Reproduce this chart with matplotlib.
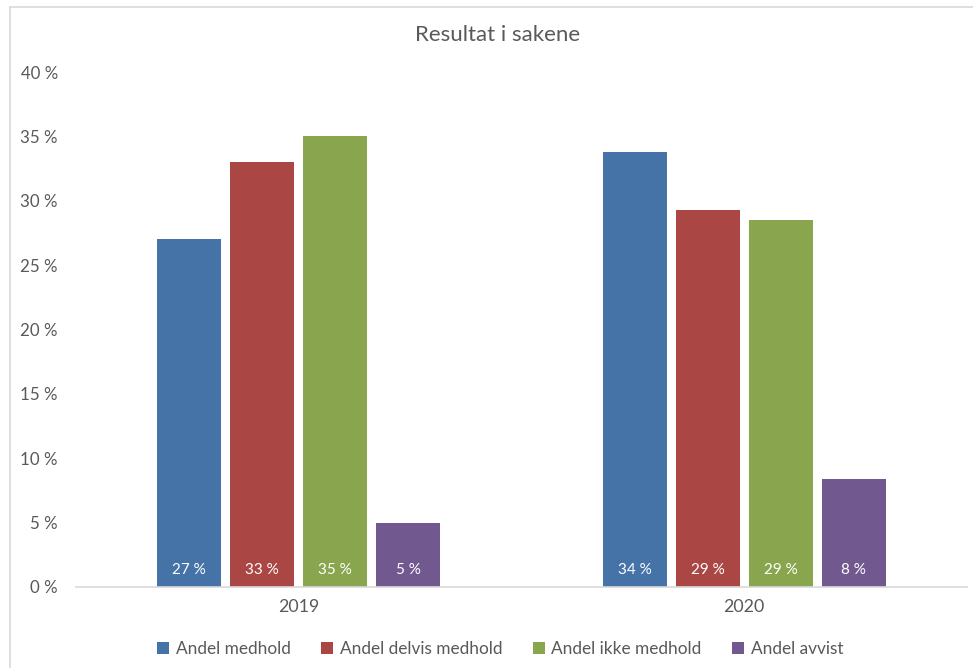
import numpy as np
import matplotlib.pyplot as plt
from matplotlib.lines import Line2D
from matplotlib.patches import Patch

plt.rcParams['font.family'] = ['Lato', 'DejaVu Sans']

years = ['2019', '2020']
series = ['Andel medhold', 'Andel delvis medhold', 'Andel ikke medhold', 'Andel avvist']
values = [
    [27.0, 33.8],   # medhold
    [33.0, 29.3],   # delvis medhold
    [35.0, 28.5],   # ikke medhold
    [5.0, 8.4],     # avvist
]
labels = [
    ['27 %', '34 %'],
    ['33 %', '29 %'],
    ['35 %', '29 %'],
    ['5 %', '8 %'],
]
colors = ['#4572A7', '#AA4643', '#89A54E', '#71588F']
text_grey = '#595959'

fig = plt.figure(figsize=(9.73, 6.68), dpi=100)
ax = fig.add_axes([0.0781, 0.1213, 0.9157, 0.7709])

x = np.arange(len(years))
width = 0.1437
step = 0.1639
for i, (name, vals) in enumerate(zip(series, values)):
    pos = x + (i - 1.5) * step
    ax.bar(pos, vals, width=width, color=colors[i], label=name, zorder=2)
    for px, lab in zip(pos, labels[i]):
        ax.annotate(lab, (px, 0), xytext=(0, 12.2), textcoords='offset points',
                    ha='center', va='center', color='white', fontsize=11)

ax.set_xlim(-0.5, 1.5)
ax.set_ylim(0, 40)
ax.set_yticks(np.arange(0, 41, 5))
ax.set_yticklabels([f'{v} %' for v in range(0, 41, 5)])
ax.set_xticks(x)
ax.set_xticklabels(years)
ax.tick_params(axis='y', length=0, pad=13, labelsize=12.2, labelcolor=text_grey)
ax.tick_params(axis='x', length=0, pad=9, labelsize=12.8, labelcolor=text_grey)
for side in ['top', 'right', 'left']:
    ax.spines[side].set_visible(False)
ax.spines['bottom'].set_color('#D9D9D9')
ax.spines['bottom'].set_linewidth(1.2)

fig.text(0.511, 0.947, 'Resultat i sakene', ha='center', va='center',
         fontsize=16, color=text_grey)

handles = [Patch(facecolor=c, edgecolor='none') for c in colors]
fig.legend(handles, series, loc='center', bbox_to_anchor=(0.514, 0.028), ncol=4,
           frameon=False, fontsize=12.4, labelcolor=text_grey,
           handlelength=0.7, handleheight=0.7, handletextpad=0.4, columnspacing=1.75)

# chart frame edges
fig.add_artist(Line2D([10 / 973, 10 / 973], [0, 1 - 7 / 668], transform=fig.transFigure,
                      color='#D9D9D9', lw=1.2))
fig.add_artist(Line2D([10 / 973, 1], [1 - 7 / 668, 1 - 7 / 668], transform=fig.transFigure,
                      color='#D9D9D9', lw=1.2))

fig.savefig('out.png', dpi=100)
